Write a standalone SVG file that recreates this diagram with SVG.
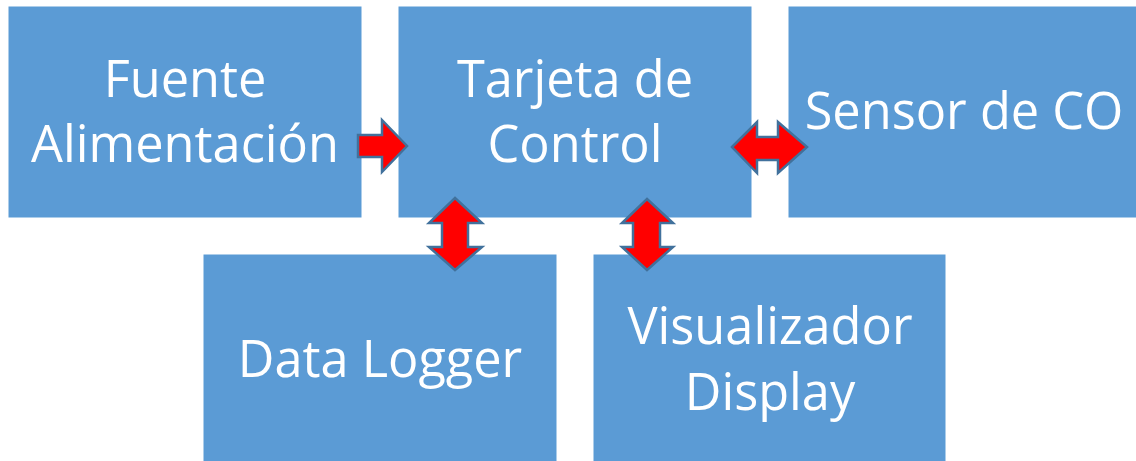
<svg xmlns="http://www.w3.org/2000/svg" width="1136" height="461" viewBox="0 0 1136 461">
<style>
.box{fill:#5B9BD5;stroke:#5B9BD5;stroke-width:1}
.lbl{fill:#FFFFFF;font-family:"Open Sans","Liberation Sans",sans-serif;font-size:50.5px;text-anchor:middle}
.arr{fill:#FF0000;stroke:#41719C;stroke-width:2.5;stroke-linejoin:miter}
</style>
<rect width="1136" height="461" fill="#FFFFFF"/>
<g id="fuente">
<rect class="box" x="9" y="7" width="352" height="210"/>
<text class="lbl" x="185" y="97">Fuente</text>
<text class="lbl" x="185" y="162">Alimentación</text>
</g>
<g id="tarjeta">
<rect class="box" x="399" y="7" width="352" height="210"/>
<text class="lbl" x="575" y="97">Tarjeta de</text>
<text class="lbl" x="575" y="162">Control</text>
</g>
<g id="sensor">
<rect class="box" x="789" y="7" width="352" height="210"/>
<text class="lbl" x="964" y="129">Sensor de CO</text>
</g>
<g id="datalogger">
<rect class="box" x="204" y="255" width="352" height="210"/>
<text class="lbl" x="380" y="377">Data Logger</text>
</g>
<g id="visualizador">
<rect class="box" x="594" y="255" width="351" height="210"/>
<text class="lbl" x="770" y="344">Visualizador</text>
<text class="lbl" x="770" y="410">Display</text>
</g>
<g id="connectors">
<polygon class="arr" points="358,135 382,135 382,120 407,146 382,172 382,157 358,157"/>
<polygon class="arr" points="732,147 757,122 757,137 778,137 778,122 807,147 778,173 778,160 757,160 757,173"/>
<polygon class="arr" points="455,198 482,223 468,223 468,247 482,247 455,270 429,247 442,247 442,223 429,223"/>
<polygon class="arr" points="647,199 673,223 660,223 660,247 673,247 647,270 622,247 633,247 633,223 622,223"/>
</g>
</svg>
